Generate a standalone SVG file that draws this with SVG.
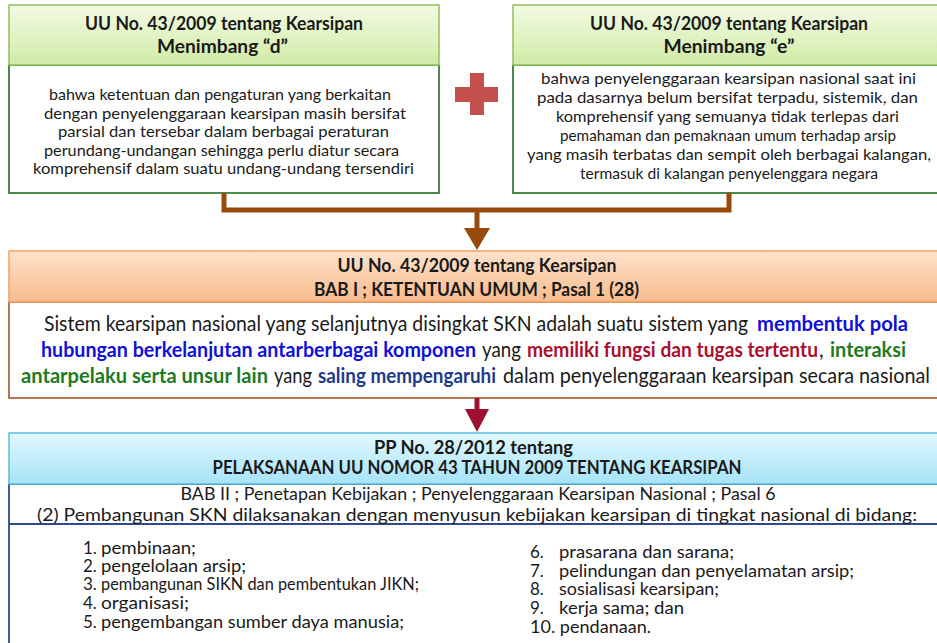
<svg xmlns="http://www.w3.org/2000/svg" width="937" height="643" viewBox="0 0 937 643">
  <defs>
    <linearGradient id="gGreen" x1="0" y1="0" x2="0" y2="1">
      <stop offset="0" stop-color="#f3fbe4"/>
      <stop offset="1" stop-color="#d0eba6"/>
    </linearGradient>
    <linearGradient id="gOrange" x1="0" y1="0" x2="0" y2="1">
      <stop offset="0" stop-color="#fde3cd"/>
      <stop offset="1" stop-color="#f9bb8c"/>
    </linearGradient>
    <linearGradient id="gBlue" x1="0" y1="0" x2="0" y2="1">
      <stop offset="0" stop-color="#e2f8fe"/>
      <stop offset="1" stop-color="#a6e3f8"/>
    </linearGradient>
  </defs>
  <style>
    text { font-family: Lato, "Liberation Sans", Arial, sans-serif; fill: #1a1a1a; }
    .hd { font-weight: bold; font-size: 18.5px; text-anchor: middle; }
    .hd2 { font-weight: bold; font-size: 19px; text-anchor: middle; }
    .bd { font-size: 16px; text-anchor: middle; }
    .mid { font-size: 20.5px; }
    .pp { font-size: 17px; text-anchor: middle; }
    .li { font-size: 17px; }
    .b { font-weight: bold; }
    .blue { fill: #1010d8; }
    .red { fill: #a8102e; }
    .green { fill: #1e7a1e; }
    .navy { fill: #1f3a8a; }
    .hdrGreen { fill: url(#gGreen); stroke: #93bf5c; stroke-width: 1.5; }
    .bodyGreen { fill: #ffffff; stroke: #1f6e1f; stroke-width: 1.6; }
    .hdrOrange { fill: url(#gOrange); stroke: #f5a060; stroke-width: 1.5; }
    .bodyOrange { fill: #ffffff; stroke: #a0582a; stroke-width: 1.6; }
    .hdrBlue { fill: url(#gBlue); stroke: #5cbdd8; stroke-width: 1.5; }
    .bodyBlue { fill: #ffffff; stroke: #2f4b8c; stroke-width: 1.8; }
  </style>

  <rect width="937" height="643" fill="#ffffff"/>

  <!-- Menimbang d -->
  <g id="menimbang-d">
    <rect class="bodyGreen" x="9" y="65" width="430" height="128"/>
    <rect class="hdrGreen" x="9" y="5" width="430" height="60"/>
    <text class="hd" x="224" y="30" textLength="278" lengthAdjust="spacingAndGlyphs">UU No. 43/2009 tentang Kearsipan</text>
    <text class="hd" x="222.5" y="53" textLength="131" lengthAdjust="spacingAndGlyphs">Menimbang “d”</text>
    <text class="bd" x="220" y="100" textLength="342" lengthAdjust="spacingAndGlyphs">bahwa ketentuan dan pengaturan yang berkaitan</text>
    <text class="bd" x="225" y="118.5" textLength="362" lengthAdjust="spacingAndGlyphs">dengan penyelenggaraan  kearsipan masih bersifat</text>
    <text class="bd" x="223.5" y="137" textLength="331" lengthAdjust="spacingAndGlyphs">parsial dan tersebar dalam berbagai peraturan</text>
    <text class="bd" x="221.5" y="155.5" textLength="355" lengthAdjust="spacingAndGlyphs">perundang-undangan sehingga perlu diatur secara</text>
    <text class="bd" x="223.5" y="174" textLength="381" lengthAdjust="spacingAndGlyphs">komprehensif dalam suatu undang-undang tersendiri</text>
  </g>

  <!-- plus sign -->
  <g id="plus">
    <rect x="470" y="73" width="14" height="42" fill="#c4504d"/>
    <rect x="455" y="87" width="43" height="15" fill="#c4504d"/>
  </g>

  <!-- Menimbang e -->
  <g id="menimbang-e">
    <rect class="bodyGreen" x="513" y="65" width="432" height="128"/>
    <rect class="hdrGreen" x="513" y="5" width="432" height="60"/>
    <text class="hd" x="729" y="30" textLength="278" lengthAdjust="spacingAndGlyphs">UU No. 43/2009 tentang Kearsipan</text>
    <text class="hd" x="729" y="53" textLength="131" lengthAdjust="spacingAndGlyphs">Menimbang “e”</text>
    <text class="bd" x="728.5" y="84" textLength="375" lengthAdjust="spacingAndGlyphs">bahwa penyelenggaraan kearsipan nasional saat ini</text>
    <text class="bd" x="727.5" y="103" textLength="381" lengthAdjust="spacingAndGlyphs">pada dasarnya belum  bersifat terpadu, sistemik, dan</text>
    <text class="bd" x="727.5" y="122" textLength="343" lengthAdjust="spacingAndGlyphs">komprehensif yang semuanya tidak terlepas dari</text>
    <text class="bd" x="728" y="141" textLength="336" lengthAdjust="spacingAndGlyphs">pemahaman dan pemaknaan umum terhadap arsip</text>
    <text class="bd" x="729" y="160" textLength="404" lengthAdjust="spacingAndGlyphs">yang masih terbatas dan sempit oleh berbagai kalangan,</text>
    <text class="bd" x="729" y="179" textLength="298" lengthAdjust="spacingAndGlyphs">termasuk di kalangan penyelenggara negara</text>
  </g>

  <!-- UU 43/2009 Pasal 1 (28) -->
  <g id="pasal-1">
    <rect class="bodyOrange" x="9" y="302" width="940" height="96"/>
    <rect class="hdrOrange" x="9" y="251" width="940" height="51"/>
    <text class="hd2" x="477" y="272" textLength="279" lengthAdjust="spacingAndGlyphs">UU No. 43/2009 tentang Kearsipan</text>
    <text class="hd2" x="476.5" y="296" textLength="325" lengthAdjust="spacingAndGlyphs">BAB I ; KETENTUAN UMUM ; Pasal 1 (28)</text>
    <!-- definition, line 1 -->
    <text class="mid" x="44" y="331" textLength="704" lengthAdjust="spacingAndGlyphs">Sistem kearsipan nasional yang selanjutnya disingkat SKN adalah suatu sistem yang</text>
    <text class="mid b blue" x="757" y="331" textLength="151" lengthAdjust="spacingAndGlyphs">membentuk pola</text>
    <!-- definition, line 2 -->
    <text class="mid b blue" x="41" y="357" textLength="435" lengthAdjust="spacingAndGlyphs">hubungan berkelanjutan antarberbagai komponen</text>
    <text class="mid" x="482" y="357" textLength="39" lengthAdjust="spacingAndGlyphs">yang</text>
    <text class="mid b red" x="527" y="357" textLength="291" lengthAdjust="spacingAndGlyphs">memiliki fungsi dan tugas tertentu</text>
    <text class="mid" x="819" y="357">,</text>
    <text class="mid b green" x="830" y="357" textLength="76" lengthAdjust="spacingAndGlyphs">interaksi</text>
    <!-- definition, line 3 -->
    <text class="mid b green" x="21" y="383" textLength="247" lengthAdjust="spacingAndGlyphs">antarpelaku serta unsur lain</text>
    <text class="mid" x="274" y="383" textLength="38" lengthAdjust="spacingAndGlyphs">yang</text>
    <text class="mid b navy" x="318" y="383" textLength="178" lengthAdjust="spacingAndGlyphs">saling mempengaruhi</text>
    <text class="mid" x="503" y="383" textLength="427" lengthAdjust="spacingAndGlyphs">dalam penyelenggaraan kearsipan secara nasional</text>
  </g>

  <!-- PP 28/2012 Pasal 6 -->
  <g id="pasal-6">
    <rect class="bodyBlue" x="9" y="484" width="940" height="170"/>
    <line x1="9" y1="524" x2="937" y2="524" stroke="#2f4b8c" stroke-width="2"/>
    <rect class="hdrBlue" x="9" y="433" width="940" height="51"/>
    <text class="hd2" x="473.5" y="454" textLength="199" lengthAdjust="spacingAndGlyphs">PP No. 28/2012 tentang</text>
    <text class="hd2" x="477" y="474" textLength="529" lengthAdjust="spacingAndGlyphs">PELAKSANAAN UU NOMOR 43 TAHUN 2009 TENTANG KEARSIPAN</text>
    <text class="pp" x="478" y="500" textLength="595" lengthAdjust="spacingAndGlyphs">BAB II ; Penetapan Kebijakan ;  Penyelenggaraan Kearsipan Nasional ; Pasal 6</text>
    <text class="pp" x="477" y="521" textLength="880" lengthAdjust="spacingAndGlyphs">(2) Pembangunan SKN dilaksanakan dengan menyusun kebijakan kearsipan di tingkat nasional di bidang:</text>
    <g class="li">
      <text x="83" y="554">1.</text><text x="101" y="554" textLength="95" lengthAdjust="spacingAndGlyphs">pembinaan;</text>
      <text x="83" y="572">2.</text><text x="101" y="572" textLength="145" lengthAdjust="spacingAndGlyphs">pengelolaan arsip;</text>
      <text x="83" y="590">3.</text><text x="101" y="590" textLength="318" lengthAdjust="spacingAndGlyphs">pembangunan SIKN dan pembentukan JIKN;</text>
      <text x="83" y="609">4.</text><text x="101" y="609" textLength="88" lengthAdjust="spacingAndGlyphs">organisasi;</text>
      <text x="83" y="628">5.</text><text x="101" y="628" textLength="303" lengthAdjust="spacingAndGlyphs">pengembangan sumber daya manusia;</text>
      <text x="530" y="558">6.</text><text x="559" y="558" textLength="175" lengthAdjust="spacingAndGlyphs">prasarana dan sarana;</text>
      <text x="530" y="577">7.</text><text x="559" y="577" textLength="295" lengthAdjust="spacingAndGlyphs">pelindungan dan penyelamatan arsip;</text>
      <text x="530" y="595">8.</text><text x="559" y="595" textLength="160" lengthAdjust="spacingAndGlyphs">sosialisasi kearsipan;</text>
      <text x="530" y="614">9.</text><text x="559" y="614" textLength="125" lengthAdjust="spacingAndGlyphs">kerja sama; dan</text>
      <text x="530" y="633" textLength="121" lengthAdjust="spacingAndGlyphs">10. pendanaan.</text>
    </g>
  </g>

  <!-- connectors -->
  <g id="connectors">
    <path d="M224,193 V210 H729 V193" fill="none" stroke="#974a0c" stroke-width="5"/>
    <path d="M477,210 V230" fill="none" stroke="#974a0c" stroke-width="5"/>
    <polygon points="464,228 490,228 477,250" fill="#974a0c"/>
    <path d="M477,398 V411" fill="none" stroke="#9e1030" stroke-width="5"/>
    <polygon points="465,409 489,409 477,432" fill="#9e1030"/>
  </g>
</svg>
